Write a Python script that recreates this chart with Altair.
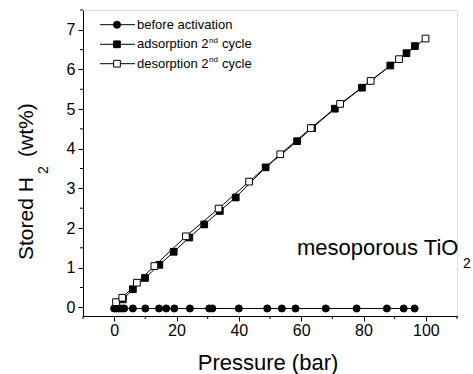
import altair as alt
import pandas as pd

# ---- data ----
before_p = [0, 0.7, 1.5, 2.3, 3.2, 6.0, 10.0, 14.4, 16.7, 19.3, 24.3, 30.5, 31.5,
            40.0, 49.1, 53.8, 58.2, 67.9, 77.8, 87.5, 92.9, 96.4]
before_h = [-0.03, -0.03, -0.03, -0.03, -0.03, -0.03, -0.03, -0.03, -0.03, -0.03, -0.03,
            -0.03, -0.03, -0.03, -0.03, -0.03, -0.03, -0.03, -0.03, -0.03, -0.03, -0.03]
ads_p = [2.8, 6.0, 9.9, 14.5, 19.1, 24.1, 28.9, 33.9, 39.0, 48.6, 58.7, 63.5,
         70.8, 79.5, 88.6, 93.8, 96.5]
ads_h = [0.2, 0.455, 0.74, 1.07, 1.40, 1.76, 2.09, 2.43, 2.77, 3.53, 4.19, 4.52,
         5.01, 5.54, 6.10, 6.41, 6.59]
des_p = [0.6, 2.6, 7.3, 12.9, 23.0, 33.5, 43.3, 53.3, 63.1, 72.5, 82.3, 91.4, 99.9]
des_h = [0.13, 0.24, 0.62, 1.04, 1.79, 2.49, 3.17, 3.86, 4.52, 5.13, 5.71, 6.26, 6.78]

x_major = [0, 20, 40, 60, 80, 100]
x_minor = [-10, 10, 30, 50, 70, 90, 110]
y_major = [0, 1, 2, 3, 4, 5, 6, 7]
y_minor = [0.5, 1.5, 2.5, 3.5, 4.5, 5.5, 6.5, 7.5]

legend_main = ["before activation", "adsorption 2", "desorption 2"]
legend_sup = ["", "nd", "nd"]
legend_tail = ["", "cycle", "cycle"]

FONT = "Liberation Sans"
W, H = 374, 306
xs = alt.Scale(domain=[-10, 110], nice=False, zero=False)
ys = alt.Scale(domain=[-0.22, 7.5], nice=False, zero=False)

x_axis = alt.Axis(values=x_major, title=None, grid=False, tickSize=5, labelPadding=1,
                  domainColor="black", tickColor="black", labelColor="black",
                  labelFont=FONT, labelFontSize=16, format="d")
y_axis = alt.Axis(values=y_major, title=None, grid=False, tickSize=5, labelPadding=3,
                  domainColor="black", tickColor="black", labelColor="black",
                  labelFont=FONT, labelFontSize=16, format="d")


def X():
    return alt.X("p:Q", scale=xs, axis=x_axis)


def Y():
    return alt.Y("h:Q", scale=ys, axis=y_axis)


one = pd.DataFrame({"a": [0]})

xminor = alt.Chart(pd.DataFrame({"p": x_minor})).mark_rule(color="black", strokeWidth=1).encode(
    x=X(), y=alt.value(H), y2=alt.value(H + 3))
yminor = alt.Chart(pd.DataFrame({"h": y_minor})).mark_rule(color="black", strokeWidth=1).encode(
    y=Y(), x=alt.value(0), x2=alt.value(-3))


def series(p, h, shape, fill, size):
    df = pd.DataFrame({"p": p, "h": h})
    line = alt.Chart(df).mark_line(color="black", strokeWidth=1).encode(x=X(), y=Y())
    pts = alt.Chart(df).mark_point(shape=shape, filled=True, fill=fill, stroke="black",
                                   strokeWidth=1, size=size, opacity=1).encode(x=X(), y=Y())
    return line, pts


b_line, b_pts = series(before_p, before_h, "circle", "black", 50)
a_line, a_pts = series(ads_p, ads_h, "square", "black", 45)
d_line, d_pts = series(des_p, des_h, "square", "white", 45)

layers = [b_line, a_line, d_line, b_pts, a_pts, d_pts, xminor, yminor]

# legend
leg_y = [14.7, 34.3, 53.7]
leg_shape = ["circle", "square", "square"]
leg_fill = ["black", "black", "white"]
leg_size = [50, 45, 45]
for i in range(3):
    yy = leg_y[i]
    layers.append(alt.Chart(one).mark_rule(color="black", strokeWidth=1).encode(
        x=alt.value(17), x2=alt.value(52), y=alt.value(yy)))
    layers.append(alt.Chart(one).mark_point(shape=leg_shape[i], filled=True, fill=leg_fill[i],
                                            stroke="black", strokeWidth=1, size=leg_size[i],
                                            opacity=1).encode(x=alt.value(34), y=alt.value(yy)))
    layers.append(alt.Chart(one).mark_text(text=legend_main[i], font=FONT, fontSize=13,
                                           align="left", baseline="middle", color="black").encode(
        x=alt.value(54), y=alt.value(yy)))
    if legend_sup[i]:
        sx = 54 + 5.503 * 13
        layers.append(alt.Chart(one).mark_text(text=legend_sup[i], font=FONT, fontSize=8,
                                               align="left", baseline="alphabetic", color="black").encode(
            x=alt.value(sx + 0.5), y=alt.value(yy - 1.5)))
        layers.append(alt.Chart(one).mark_text(text=legend_tail[i], font=FONT, fontSize=13,
                                               align="left", baseline="middle", color="black").encode(
            x=alt.value(sx + 13.5), y=alt.value(yy)))


def txt(t, x, y, size, angle=0, align="left", baseline="alphabetic"):
    kw = dict(text=t, font=FONT, fontSize=size, align=align, baseline=baseline, color="black")
    if angle:
        kw["angle"] = angle
    return alt.Chart(one).mark_text(**kw).encode(x=alt.value(x), y=alt.value(y))


layers += [
    txt("Pressure (bar)", 185, 360, 22, align="center"),
    txt("Stored H", -50, 250, 21, angle=270),
    txt("2", -35, 164, 14, angle=270),
    txt("(wt%)", -50, 147, 21, angle=270),
    txt("mesoporous TiO", 214, 245, 22),
    txt("2", 380, 258, 14),
]

chart = alt.layer(*layers).properties(
    width=W, height=H,
    autosize=alt.AutoSizeParams(type="none"),
    padding={"left": 83, "top": 10, "right": 16, "bottom": 58},
).configure_view(stroke=None).configure(background="white")

chart.save("out.html", embed_options={"renderer": "svg", "actions": False})
